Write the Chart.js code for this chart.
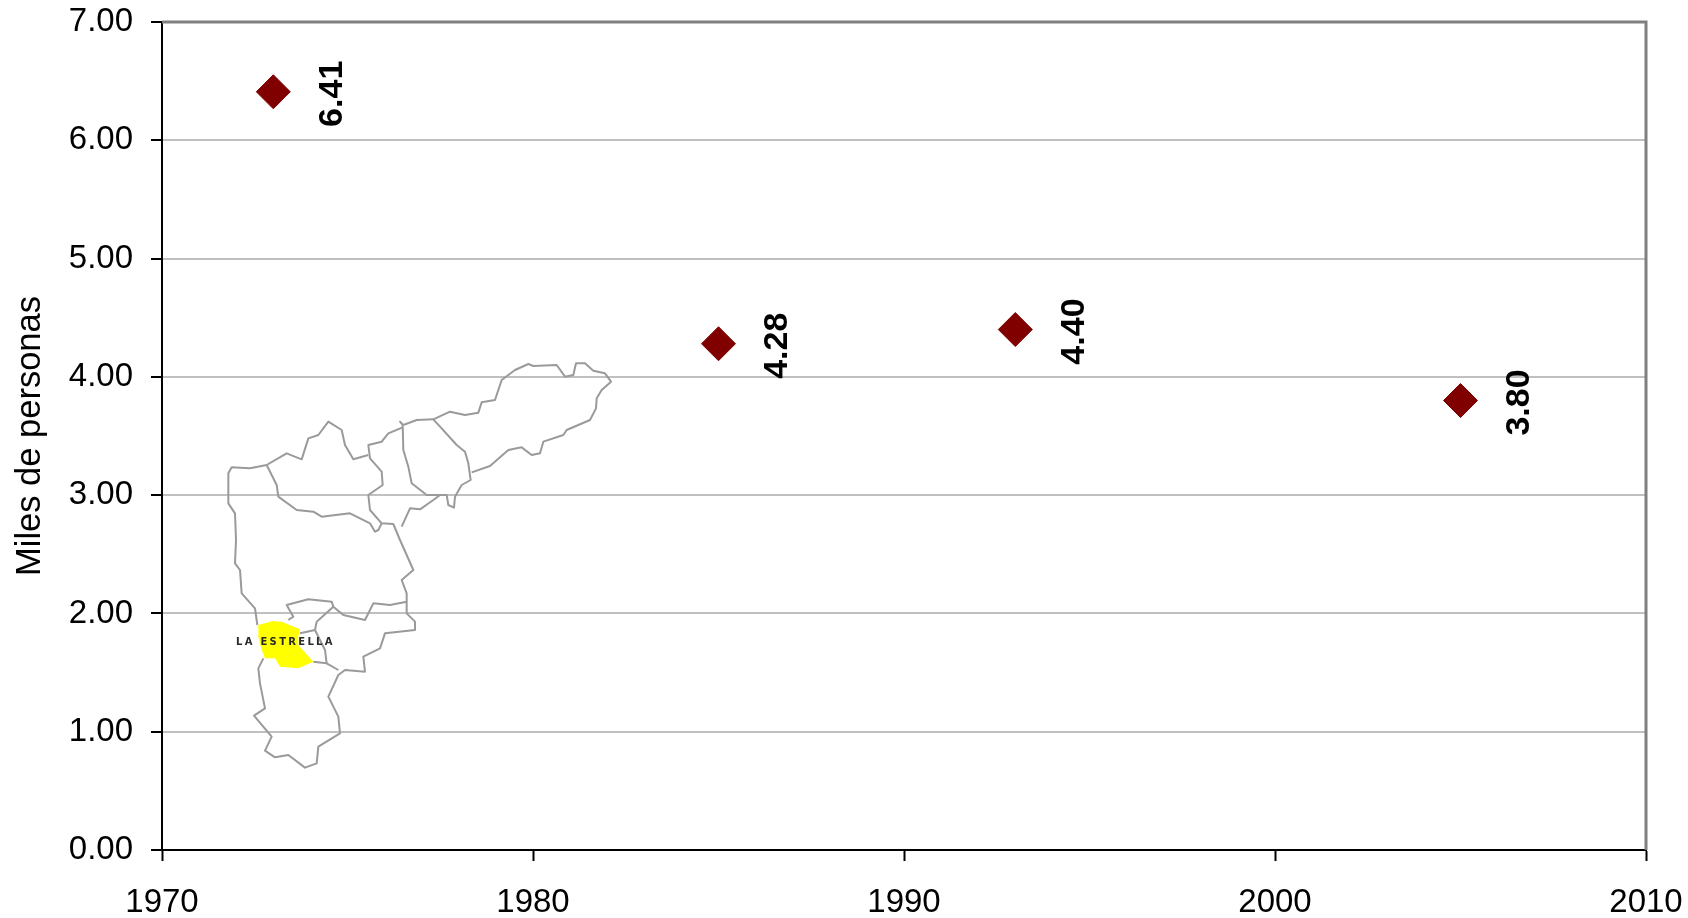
<!DOCTYPE html>
<html>
<head>
<meta charset="utf-8">
<style>
  html, body { margin: 0; padding: 0; background: #fff; }
  #chartBox { width: 1688px; height: 918px; }
</style>
<script src="https://cdn.jsdelivr.net/npm/chart.js@4/dist/chart.umd.js"></script>
</head>
<body>
<div id="chartBox"><canvas id="chart"></canvas></div>
<script>
const years = [1973, 1985, 1993, 2005];
const values = [6.41, 4.28, 4.40, 3.80];
const yTitle = "Miles de personas";
const mapLabel = "LA ESTRELLA";

// inset map of the subregion (not data)
const mapLines = [
  [[610,255],[650,240],[700,238],[750,215],[795,225],[835,218],[845,187],[885,180],[905,120],[945,90],[985,72],[1000,78],[1070,75],[1095,110],[1120,105],[1128,70],[1155,70],[1180,92],[1215,100],[1233,125],[1205,150],[1190,175],[1188,205],[1170,240],[1100,270],[1090,285],[1030,305],[1020,340],[995,345],[965,322],[925,330],[870,378],[815,397]],
  [[700,238],[725,265],[770,315],[795,335],[805,370],[812,420],[785,435],[765,470],[762,503],[745,495],[740,465],[680,465],[635,430],[625,380],[610,330],[608,255],[600,245],[610,255]],
  [[608,262],[565,280],[545,305],[505,315],[510,355],[545,395],[548,435],[505,465],[510,510],[545,550],[580,552],[600,600],[640,690],[605,720],[620,760],[620,820],[645,845],[645,870],[555,880],[540,925],[490,950],[495,995],[435,990],[415,1005],[385,1070],[415,1130],[420,1180],[355,1220],[350,1270],[315,1283],[265,1245],[225,1252],[195,1232],[215,1190],[162,1127],[195,1105],[180,1030],[175,985],[190,955]],
  [[200,375],[260,340],[305,358],[325,295],[355,285],[385,245],[425,270],[435,315],[460,358],[505,345]],
  [[200,375],[150,385],[95,382],[85,400],[85,490],[105,520],[108,600],[105,670],[120,690],[125,760],[165,805],[172,855]],
  [[200,375],[230,435],[235,470],[290,510],[340,515],[365,530],[450,520],[510,550],[525,575],[535,570],[545,550]],
  [[605,560],[630,505],[660,508],[700,480],[720,465]],
  [[265,840],[280,830],[260,795],[325,778],[395,785],[400,800],[430,825],[495,840],[520,790],[570,795],[620,785]],
  [[400,800],[350,845],[345,870],[300,880]],
  [[345,870],[375,930],[380,970],[415,990]],
  [[340,965],[380,970]],
];
const mapYellow = [[175,855],[220,843],[245,845],[300,868],[295,890],[295,915],[340,965],[295,985],[240,980],[225,955],[195,955],[185,930],[175,890]];

// crop coordinates -> page pixels
const mapX = (x) => 200 + x / 3;
const mapY = (y) => 340 + y / 3;

function tracePath(ctx, pts) {
  ctx.beginPath();
  pts.forEach((p, i) => {
    if (i === 0) ctx.moveTo(mapX(p[0]), mapY(p[1]));
    else ctx.lineTo(mapX(p[0]), mapY(p[1]));
  });
}

const mapPlugin = {
  id: "mapInset",
  beforeDatasetsDraw(chart) {
    const { ctx } = chart;
    ctx.save();
    tracePath(ctx, mapYellow);
    ctx.closePath();
    ctx.fillStyle = "#ffff00";
    ctx.fill();
    ctx.strokeStyle = "#9a9a9a";
    ctx.lineWidth = 2;
    ctx.lineJoin = "round";
    mapLines.forEach((line) => {
      tracePath(ctx, line);
      ctx.stroke();
    });
    ctx.fillStyle = "#2a2a2a";
    ctx.font = "bold 10px 'DejaVu Sans'";
    ctx.letterSpacing = "2.3px";
    ctx.textAlign = "left";
    ctx.textBaseline = "middle";
    ctx.fillText(mapLabel, 236, 642);
    ctx.restore();
  },
};

// grey frame on top and right, rotated value labels next to the points
const framePlugin = {
  id: "frameAndLabels",
  afterDatasetsDraw(chart) {
    const { ctx, chartArea } = chart;
    ctx.save();
    ctx.strokeStyle = "#808080";
    ctx.lineWidth = 3;
    ctx.beginPath();
    ctx.moveTo(chartArea.left, chartArea.top);
    ctx.lineTo(chartArea.right, chartArea.top);
    ctx.lineTo(chartArea.right, chartArea.bottom);
    ctx.stroke();
    ctx.restore();

    const xScale = chart.scales.x;
    const yScale = chart.scales.y;
    ctx.save();
    ctx.fillStyle = "#000";
    ctx.font = "bold 34px 'Liberation Sans'";
    ctx.textAlign = "center";
    ctx.textBaseline = "middle";
    years.forEach((year, i) => {
      ctx.save();
      ctx.translate(xScale.getPixelForValue(year) + 59, yScale.getPixelForValue(values[i]) + 2);
      ctx.rotate(-Math.PI / 2);
      ctx.fillText(values[i].toFixed(2), 0, 0);
      ctx.restore();
    });
    ctx.restore();
  },
};

new Chart(document.getElementById("chart"), {
  type: "scatter",
  data: {
    datasets: [
      {
        data: years.map((year, i) => ({ x: year, y: values[i] })),
        pointStyle: "rectRot",
        pointRadius: 17,
        pointHoverRadius: 17,
        backgroundColor: "#800000",
        borderColor: "#800000",
        borderWidth: 1,
      },
    ],
  },
  plugins: [mapPlugin, framePlugin],
  options: {
    responsive: true,
    maintainAspectRatio: false,
    animation: false,
    layout: { padding: { top: 22, right: 42, left: 0, bottom: 0 } },
    plugins: {
      legend: { display: false },
      tooltip: { enabled: false },
    },
    scales: {
      x: {
        type: "linear",
        min: 1970,
        max: 2010,
        afterFit(scale) {
          // tick padding leaks into the auto padding, so pin the plot area
          scale.height = 68;
          scale.paddingLeft = 0;
          scale.paddingRight = 0;
        },
        ticks: {
          stepSize: 10,
          maxRotation: 0,
          color: "#000",
          padding: 22,
          font: { family: "'Liberation Sans'", size: 33 },
          callback(value) {
            return String(value);
          },
        },
        border: { color: "#000", width: 2 },
        grid: { drawOnChartArea: false, tickLength: 11, tickColor: "#000", tickWidth: 2 },
      },
      y: {
        min: 0,
        max: 7,
        afterFit(scale) {
          scale.width = 162;
          scale.paddingTop = 0;
          scale.paddingBottom = 0;
        },
        title: {
          display: true,
          text: yTitle,
          color: "#000",
          font: { family: "'Liberation Sans'", size: 34.5 },
          padding: { top: 10, bottom: 0 },
        },
        ticks: {
          stepSize: 1,
          color: "#000",
          padding: 18,
          font: { family: "'Liberation Sans'", size: 33 },
          callback(value) {
            return value.toFixed(2);
          },
        },
        border: { color: "#000", width: 2 },
        grid: { color: "#c0c0c0", lineWidth: 2, tickLength: 11, tickColor: "#000", tickWidth: 2 },
      },
    },
  },
});
</script>
</body>
</html>
